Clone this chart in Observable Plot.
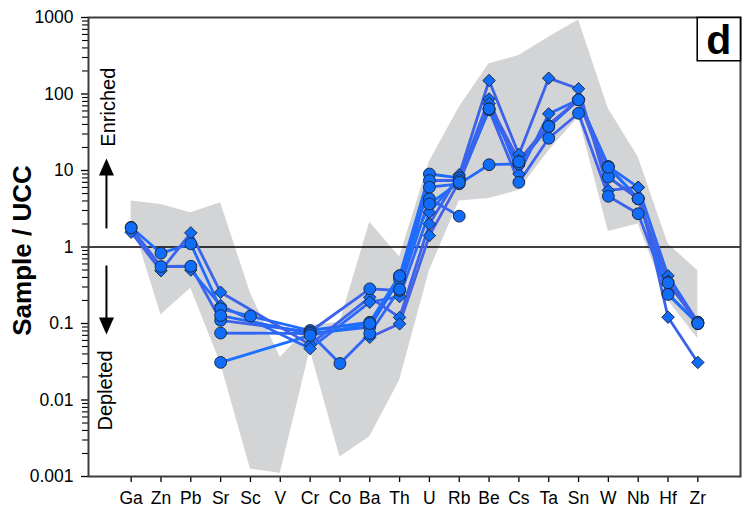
<!DOCTYPE html>
<html><head><meta charset="utf-8">
<script src="https://cdn.jsdelivr.net/npm/d3@7/dist/d3.min.js"></script>
<script src="https://cdn.jsdelivr.net/npm/@observablehq/plot@0.6/dist/plot.umd.min.js"></script>
<style>html,body{margin:0;padding:0;background:#fff;} #chart svg{display:block;}</style>
</head><body><div id="chart"></div>
<script>
const elements = ["Ga","Zn","Pb","Sr","Sc","V","Cr","Co","Ba","Th","U","Rb","Be","Cs","Ta","Sn","W","Nb","Hf","Zr"];
const bandUpper = [4.0, 3.6, 2.8, 3.8, 0.25, 0.036, 0.094, 0.104, 2.1, 0.74, 13, 67, 248, 318, 550, 930, 64, 15, 1.1, 0.49];
const bandLower = [2.3, 0.13, 0.29, 0.03, 0.00125, 0.0011, 0.045, 0.0018, 0.0033, 0.018, 0.49, 4.0, 4.3, 5.5, 18, 50, 1.6, 2.0, 0.2, 0.063];
const yTicks = [0.001, 0.01, 0.1, 1, 10, 100, 1000];
const minorTicks = [
  0.002, 0.003, 0.004, 0.005, 0.006, 0.007, 0.008, 0.009,
  0.02, 0.03, 0.04, 0.05, 0.06, 0.07, 0.08, 0.09,
  0.2, 0.3, 0.4, 0.5, 0.6, 0.7, 0.8, 0.9,
  2, 3, 4, 5, 6, 7, 8, 9,
  20, 30, 40, 50, 60, 70, 80, 90,
  200, 300, 400, 500, 600, 700, 800, 900
];

// circle samples
const c1 = [1.81, 0.83, 1.1, 0.156, 0.125, null, 0.081, null, 0.104, 0.42, 9.0, 8.0, 64, 12.2, 37.6, 84, 11.3, 4.27, 0.34, 0.104];
const c2 = [1.78, 0.556, 0.56, 0.11, null, null, 0.078, null, 0.284, 0.27, 7.4, 7.4, 62, 7.0, 26.4, 56, 4.6, 2.72, 0.245, 0.099];
const c3 = [null, null, null, 0.127, null, null, 0.074, null, 0.09, 0.38, 6.05, 6.7, 11.9, 12.2, 37.6, 84, 8.2, 4.27, 0.34, 0.104];
const c4 = [null, null, null, 0.075, null, null, 0.074, 0.030, 0.074, 0.28, 4.27, 2.53, null, null, null, null, null, null, null, null];
const c5 = [null, null, null, 0.031, null, null, 0.07, null, 0.1, 0.42, 3.66, 7.0, 64, 13, 37.6, 84, 11, 4.27, 0.24, 0.1];
// diamond samples
const d1 = [1.56, 0.49, 1.53, 0.256, null, null, 0.053, null, 0.22, 0.12, 2.0, 8.8, 150, 16.2, 161, 117, 5.5, 6.05, 0.121, 0.031];
const d2 = [null, null, 0.5, 0.172, null, null, 0.047, null, 0.19, 0.225, 2.85, 8.0, 86, 9.0, 55, 84, 11.3, 6.0, 0.42, 0.104];
const d3 = [null, null, null, null, null, null, null, null, 0.066, 0.099, 1.41, 7.2, 75, 13.5, 40, 84, 8.2, 4.3, 0.36, 0.1];

const seriesNames = ["C1","C2","C3","C4","C5","D1","D2","D3"];
const seriesShapes = ["circle","circle","circle","circle","circle","diamond","diamond","diamond"];
const seriesColors = ["#1e6cff","#3d63ee","#2468fb","#2f66f5","#1a70ff","#3a62ec","#2b69f8","#4560e4"];
const seriesValues = [c1, c2, c3, c4, c5, d1, d2, d3];

const rows = seriesValues.flatMap((vals, s) =>
  vals.map((v, i) => ({series: seriesNames[s], shape: seriesShapes[s], color: seriesColors[s], el: elements[i], v}))
      .filter(d => d.v != null));
const band = elements.map((el, i) => ({el, lo: bandLower[i], hi: bandUpper[i]}));

const headUp = {draw(ctx) { ctx.moveTo(0, -10); ctx.lineTo(7.5, 7); ctx.lineTo(-7.5, 7); ctx.closePath(); }};
const headDown = {draw(ctx) { ctx.moveTo(0, 10); ctx.lineTo(7.5, -7); ctx.lineTo(-7.5, -7); ctx.closePath(); }};

const markerFill = "#0f6df9", markerStroke = "#1c2a47";

const chart = Plot.plot({
  width: 752, height: 511,
  marginLeft: 88, marginRight: 12, marginTop: 17, marginBottom: 35,
  style: {fontFamily: "Liberation Sans, Arial, Helvetica, sans-serif", fontSize: "18px", color: "black", background: "white"},
  x: {type: "point", domain: elements, padding: 1.43, round: false, label: null},
  y: {type: "log", domain: [0.001, 1000], label: null},
  color: {type: "identity"},
  marks: [
    Plot.areaY(band, {x: "el", y1: "lo", y2: "hi", fill: "#d3d4d6", curve: "linear"}),
    Plot.ruleY([1], {stroke: "black", strokeWidth: 1.3}),
    Plot.line(rows, {x: "el", y: "v", z: "series", stroke: "color", strokeWidth: 2.8, curve: "linear"}),
    Plot.dot(rows.filter(d => d.shape === "diamond"), {x: "el", y: "v", symbol: "diamond2", r: 5.6, fill: markerFill, stroke: markerStroke, strokeWidth: 1}),
    Plot.dot(rows.filter(d => d.shape === "circle"), {x: "el", y: "v", symbol: "circle", r: 5.9, fill: markerFill, stroke: markerStroke, strokeWidth: 1}),
    // enriched / depleted arrows
    Plot.link([{el: "Ga", a: 1.75, b: 10.6}], {x1: "el", x2: "el", y1: "a", y2: "b", dx: -24.7, stroke: "black", strokeWidth: 2}),
    Plot.dot([{el: "Ga", y: 10.6}], {x: "el", y: "y", dx: -24.7, symbol: headUp, fill: "black", stroke: "none"}),
    Plot.link([{el: "Ga", a: 0.573, b: 0.097}], {x1: "el", x2: "el", y1: "a", y2: "b", dx: -24.7, stroke: "black", strokeWidth: 2}),
    Plot.dot([{el: "Ga", y: 0.097}], {x: "el", y: "y", dx: -24.7, symbol: headDown, fill: "black", stroke: "none"}),
    Plot.text([{el: "Ga", y: 67.2, t: "Enriched"}], {x: "el", y: "y", text: "t", dx: -16.2, rotate: -90, textAnchor: "middle", lineAnchor: "bottom", fontSize: 20, fill: "black"}),
    Plot.text([{el: "Ga", y: 0.0133, t: "Depleted"}], {x: "el", y: "y", text: "t", dx: -19.2, rotate: -90, textAnchor: "middle", lineAnchor: "bottom", fontSize: 20, fill: "black"}),
    // axes
    Plot.axisX({tickSize: 6, tickPadding: 9, fontSize: 17.5, strokeWidth: 1.3, label: null}),
    Plot.axisY(yTicks, {tickSize: 7, tickPadding: 8, fontSize: 17.5, strokeWidth: 1.3, tickFormat: d => String(d), label: null}),
    Plot.axisY(minorTicks, {tickSize: 6, strokeWidth: 1.1, tickFormat: () => "", label: null}),
    Plot.text(["Sample / UCC"], {frameAnchor: "left", dx: -58, dy: 3.5, rotate: -90, textAnchor: "middle", lineAnchor: "bottom", fontSize: 26, fontWeight: "bold", fill: "black"}),
    Plot.frame({stroke: "#3c3c3c", strokeWidth: 2}),
    // panel label
    Plot.dot([null], {frameAnchor: "top-right", symbol: "square", r: 24.4, dx: -21.65, dy: 21.65, fill: "white", stroke: "black", strokeWidth: 1.6}),
    Plot.text(["d"], {frameAnchor: "top-right", dx: -21.65, dy: 36.3, textAnchor: "middle", lineAnchor: "bottom", fontSize: 41, fontWeight: "bold", fill: "black"})
  ]
});
document.getElementById("chart").appendChild(chart);
</script>
</body></html>
